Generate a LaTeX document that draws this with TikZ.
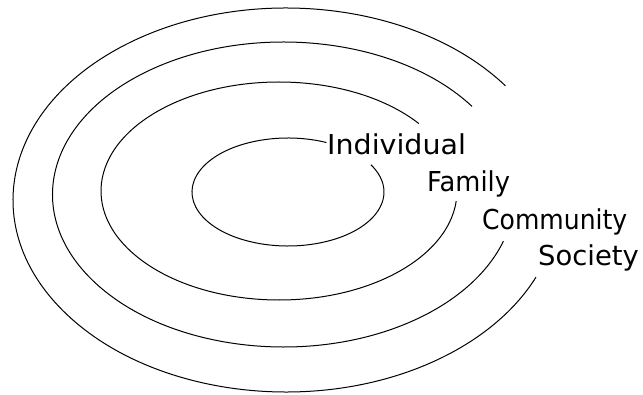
\documentclass[tikz,border=0pt]{standalone}
\usepackage{fontspec}
\usepackage{graphicx}
\newfontfamily\lblfont{DejaVu Sans}
\tikzset{
  ring/.style={draw=black, line width=1pt},
  lbl/.style={anchor=base west, inner sep=0pt, font=\lblfont\fontsize{27.4}{30}\selectfont}
}
\begin{document}
\begin{tikzpicture}[x=1pt,y=1pt]
\useasboundingbox (0,0) rectangle (643,394);
% centres
\coordinate (c1) at (288,202);
\coordinate (c2) at (279,203);
\coordinate (c3) at (283.5,199.5);
\coordinate (c4) at (286,194);
% rings (open on the right)
\draw[ring] (c1) ++(66.4:96pt and 54pt) arc[start angle=66.4, end angle=390.3, x radius=96pt, y radius=54pt];
\draw[ring] (c2) ++(38.2:178pt and 109pt) arc[start angle=38.2, end angle=354.7, x radius=178pt, y radius=109pt];
\draw[ring] (c3) ++(35.3:231pt and 152.5pt) arc[start angle=35.3, end angle=342.2, x radius=231pt, y radius=152.5pt];
\draw[ring] (c4) ++(36.5:273pt and 192pt) arc[start angle=36.5, end angle=336.3, x radius=273pt, y radius=192pt];
% labels
\node[lbl] (individual) at (327,239) {\scalebox{1.04}[1]{Individual}};
\node[lbl] (family) at (427,202) {\scalebox{0.94}[1]{Family}};
\node[lbl] (community) at (482,164) {\scalebox{0.915}[1]{Community}};
\node[lbl] (society) at (538,128) {\scalebox{1.0}[1]{Society}};
\end{tikzpicture}
\end{document}
